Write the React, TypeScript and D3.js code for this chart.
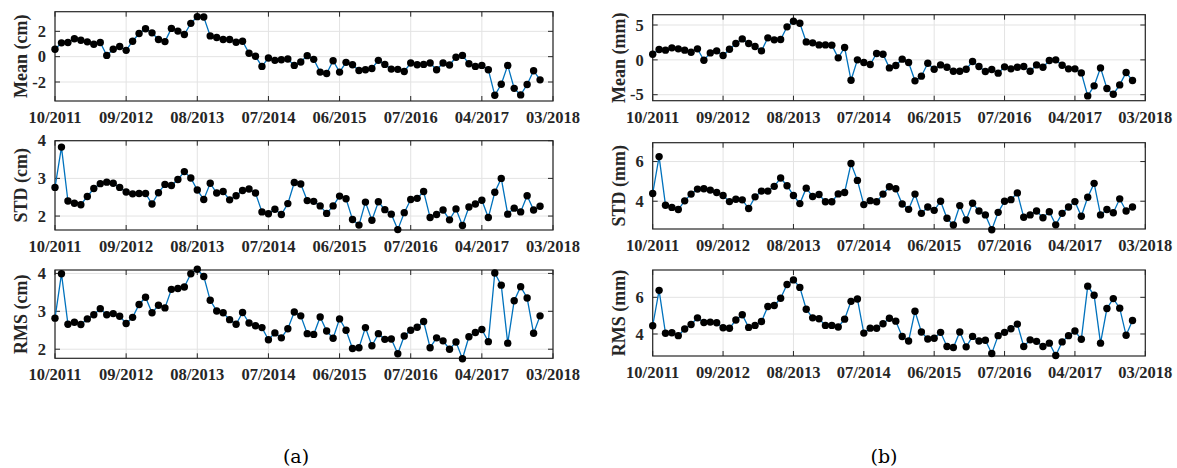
import React from "react";
import * as d3 from "d3";

// Monthly epochs on the x axis: sample index, labelled every 11 samples
const tickIdx = [0, 11, 22, 33, 44, 55, 66, 77];
const tickLabels = ["10/2011", "09/2012", "08/2013", "07/2014", "06/2015", "07/2016", "04/2017", "03/2018"];

// (a) statistics in cm
const meanCm = [
  0.58, 1.09, 1.12, 1.41, 1.3, 1.17, 0.98, 1.12, 0.1, 0.58,
  0.8, 0.5, 1.22, 1.83, 2.2, 1.88, 1.35, 1.19, 2.23, 2.02,
  1.75, 2.63, 3.16, 3.13, 1.64, 1.51, 1.35, 1.35, 1.14, 1.22,
  0.27, 0.03, -0.77, -0.1, -0.29, -0.24, -0.19, -0.69, -0.42, 0.08,
  -0.21, -1.22, -1.33, -0.32, -1.22, -0.45, -0.64, -1.09, -1.03, -0.93,
  -0.29, -0.61, -0.98, -1.0, -1.17, -0.5, -0.64, -0.61, -0.5, -1.03,
  -0.5, -0.66, -0.05, 0.1, -0.56, -0.77, -0.69, -1.03, -3.05, -2.18,
  -0.69, -2.5, -3.02, -2.2, -1.11, -1.83,
];
const stdCm = [
  2.76, 3.83, 2.4, 2.34, 2.3, 2.52, 2.73, 2.86, 2.9, 2.87,
  2.76, 2.64, 2.59, 2.6, 2.6, 2.32, 2.62, 2.84, 2.81, 2.97,
  3.18, 3.01, 2.69, 2.44, 2.87, 2.61, 2.65, 2.43, 2.54, 2.68,
  2.72, 2.61, 2.11, 2.06, 2.18, 2.04, 2.33, 2.89, 2.85, 2.41,
  2.39, 2.27, 2.07, 2.27, 2.53, 2.46, 1.91, 1.76, 2.37, 1.89,
  2.38, 2.17, 2.05, 1.64, 2.09, 2.44, 2.47, 2.65, 1.96, 2.04,
  2.16, 1.9, 2.19, 1.75, 2.24, 2.32, 2.42, 1.96, 2.63, 3.0,
  2.05, 2.21, 2.11, 2.54, 2.16, 2.26,
];
const rmsCm = [
  2.82, 3.99, 2.66, 2.71, 2.65, 2.8, 2.91, 3.07, 2.91, 2.94,
  2.87, 2.68, 2.84, 3.18, 3.37, 2.96, 3.16, 3.09, 3.58, 3.6,
  3.64, 3.99, 4.11, 3.92, 3.29, 3.01, 2.96, 2.78, 2.66, 2.97,
  2.69, 2.62, 2.57, 2.25, 2.43, 2.3, 2.54, 2.98, 2.88, 2.41,
  2.39, 2.85, 2.48, 2.29, 2.8, 2.5, 2.02, 2.04, 2.57, 2.09,
  2.41, 2.26, 2.27, 1.88, 2.35, 2.5, 2.58, 2.73, 2.04, 2.3,
  2.22, 2.0, 2.19, 1.75, 2.33, 2.44, 2.52, 2.2, 4.01, 3.69,
  2.16, 3.28, 3.65, 3.35, 2.42, 2.88,
];

// (b) statistics in mm
const meanMm = [
  0.81, 1.48, 1.39, 1.72, 1.58, 1.39, 1.1, 1.58, -0.05, 1.0,
  1.29, 0.62, 1.53, 2.34, 3.01, 2.34, 1.91, 1.29, 3.16, 2.87,
  2.92, 4.74, 5.55, 5.26, 2.58, 2.44, 2.15, 2.15, 2.11, 0.29,
  1.77, -2.92, 0.0, -0.38, -0.67, 0.91, 0.81, -1.15, -0.81, 0.1,
  -0.38, -3.01, -2.34, -0.48, -1.34, -0.72, -1.05, -1.63, -1.63, -1.34,
  -0.24, -0.96, -1.67, -1.39, -1.91, -1.0, -1.29, -1.05, -0.96, -1.63,
  -0.72, -1.05, -0.1, 0.0, -0.77, -1.29, -1.29, -1.87, -5.17, -3.73,
  -1.15, -4.11, -4.93, -3.59, -1.82, -2.97,
];
const stdMm = [
  4.39, 6.25, 3.8, 3.69, 3.58, 4.02, 4.36, 4.61, 4.63, 4.56,
  4.44, 4.29, 3.98, 4.1, 4.07, 3.63, 4.22, 4.51, 4.51, 4.75,
  5.17, 4.78, 4.29, 3.88, 4.66, 4.24, 4.34, 3.97, 3.97, 4.37,
  4.44, 5.9, 5.05, 3.83, 4.03, 3.97, 4.36, 4.73, 4.63, 3.86,
  3.59, 4.36, 3.39, 3.71, 3.54, 4.0, 3.14, 2.8, 3.78, 3.05,
  3.9, 3.51, 3.31, 2.56, 3.44, 4.0, 4.08, 4.42, 3.19, 3.31,
  3.51, 3.17, 3.47, 2.81, 3.39, 3.71, 3.98, 3.24, 4.2, 4.9,
  3.31, 3.58, 3.42, 4.12, 3.51, 3.71,
];
const rmsMm = [
  4.45, 6.38, 4.04, 4.07, 3.91, 4.27, 4.52, 4.88, 4.63, 4.65,
  4.61, 4.34, 4.31, 4.76, 5.05, 4.36, 4.47, 4.68, 5.5, 5.55,
  5.95, 6.7, 6.95, 6.54, 5.35, 4.88, 4.83, 4.47, 4.47, 4.38,
  4.81, 5.78, 5.91, 4.05, 4.32, 4.31, 4.56, 4.86, 4.7, 3.86,
  3.62, 5.24, 4.11, 3.73, 3.77, 4.09, 3.32, 3.26, 4.11, 3.3,
  3.87, 3.62, 3.66, 2.94, 3.91, 4.09, 4.29, 4.54, 3.32, 3.68,
  3.6, 3.32, 3.5, 2.83, 3.57, 3.91, 4.16, 3.71, 6.61, 6.11,
  3.5, 5.39, 5.93, 5.41, 3.93, 4.74,
];

type Panel = {
  label: string;
  values: number[];
  yDomain: [number, number];
  yTicks: number[];
  x0: number;
  x1: number;
  y0: number;
  y1: number;
  labelX: number;
};

const panels: Panel[] = [
  { label: "Mean (cm)", values: meanCm, yDomain: [-3.5, 3.55], yTicks: [-2, 0, 2], x0: 55, x1: 553, y0: 11.7, y1: 101, labelX: 21 },
  { label: "STD (cm)", values: stdCm, yDomain: [1.63, 4.0], yTicks: [2, 3, 4], x0: 55, x1: 553, y0: 140.7, y1: 230, labelX: 21 },
  { label: "RMS (cm)", values: rmsCm, yDomain: [1.76, 4.09], yTicks: [2, 3, 4], x0: 55, x1: 553, y0: 270, y1: 358.3, labelX: 21 },
  { label: "Mean (mm)", values: meanMm, yDomain: [-5.86, 6.48], yTicks: [-5, 0, 5], x0: 652.7, x1: 1145.3, y0: 14.7, y1: 100.7, labelX: 619 },
  { label: "STD (mm)", values: stdMm, yDomain: [2.6, 6.95], yTicks: [4, 6], x0: 652.7, x1: 1145.3, y0: 142.7, y1: 229, labelX: 619 },
  { label: "RMS (mm)", values: rmsMm, yDomain: [2.8, 7.49], yTicks: [4, 6], x0: 652.7, x1: 1145.3, y0: 270, y1: 356, labelX: 619 },
];

const TEXT = "#262626";
const FONT = "'Liberation Serif', 'Times New Roman', serif";

function Axes({ p }: { p: Panel }) {
  const x = d3.scaleLinear().domain([0, 77]).range([p.x0, p.x1]);
  const y = d3.scaleLinear().domain(p.yDomain).range([p.y1, p.y0]);
  const line = d3
    .line<number>()
    .x((_, i) => x(i))
    .y((d) => y(d));
  const tl = 5;
  return (
    <g>
      {/* grid */}
      {tickIdx.map((t) => (
        <line key={"gx" + t} x1={x(t)} x2={x(t)} y1={p.y0} y2={p.y1} stroke="#e3e3e3" strokeWidth={1} />
      ))}
      {p.yTicks.map((t) => (
        <line key={"gy" + t} x1={p.x0} x2={p.x1} y1={y(t)} y2={y(t)} stroke="#e3e3e3" strokeWidth={1} />
      ))}
      {/* box */}
      <rect x={p.x0} y={p.y0} width={p.x1 - p.x0} height={p.y1 - p.y0} fill="none" stroke={TEXT} strokeWidth={1.2} />
      {/* ticks */}
      {tickIdx.map((t) => (
        <g key={"tx" + t}>
          <line x1={x(t)} x2={x(t)} y1={p.y1} y2={p.y1 - tl} stroke={TEXT} strokeWidth={1} />
          <line x1={x(t)} x2={x(t)} y1={p.y0} y2={p.y0 + tl} stroke={TEXT} strokeWidth={1} />
        </g>
      ))}
      {p.yTicks.map((t) => (
        <g key={"ty" + t}>
          <line x1={p.x0} x2={p.x0 + tl} y1={y(t)} y2={y(t)} stroke={TEXT} strokeWidth={1} />
          <line x1={p.x1} x2={p.x1 - tl} y1={y(t)} y2={y(t)} stroke={TEXT} strokeWidth={1} />
        </g>
      ))}
      {/* tick labels */}
      {tickIdx.map((t, i) => (
        <text key={"lx" + t} x={x(t)} y={p.y1 + 22} textAnchor="middle" fontFamily={FONT} fontWeight="bold" fontSize={16.5} fill={TEXT}>
          {tickLabels[i]}
        </text>
      ))}
      {p.yTicks.map((t) => (
        <text key={"ly" + t} x={p.x0 - 9} y={y(t)} dy="0.35em" textAnchor="end" fontFamily={FONT} fontWeight="bold" fontSize={16.5} fill={TEXT}>
          {t}
        </text>
      ))}
      <text
        transform={`translate(${p.labelX},${(p.y0 + p.y1) / 2}) rotate(-90)`}
        dy="0.35em"
        textAnchor="middle"
        fontFamily={FONT}
        fontWeight="bold"
        fontSize={18}
        fill={TEXT}
      >
        {p.label}
      </text>
      {/* series */}
      <path d={line(p.values) || ""} fill="none" stroke="#0072BD" strokeWidth={1.3} />
      {p.values.map((v, i) => (
        <circle key={"c" + i} cx={x(i)} cy={y(v)} r={3.7} fill="#000" />
      ))}
    </g>
  );
}

export default function App() {
  return (
    <div style={{ position: "absolute", left: 0, top: 0, width: 1177, height: 468, background: "#fff" }}>
      <svg width={1177} height={468} style={{ display: "block" }}>
        <rect width={1177} height={468} fill="#fff" />
        {panels.map((p) => (
          <Axes key={p.label} p={p} />
        ))}
        <text x={296} y={463} textAnchor="middle" fontFamily="'DejaVu Serif', serif" fontSize={19} fill="#000">
          (a)
        </text>
        <text x={884} y={463} textAnchor="middle" fontFamily="'DejaVu Serif', serif" fontSize={19} fill="#000">
          (b)
        </text>
      </svg>
    </div>
  );
}
